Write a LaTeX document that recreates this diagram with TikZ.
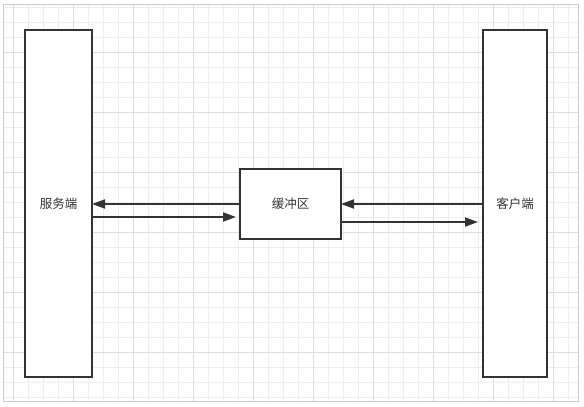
\documentclass[tikz,border=0pt]{standalone}
\usepackage{fontspec}
\newfontfamily\cjk{Noto Sans CJK SC}
\usetikzlibrary{arrows.meta}
\definecolor{ink}{HTML}{333333}
\definecolor{gridminor}{HTML}{EEEEEE}
\definecolor{gridmajor}{HTML}{DEDEDE}
\definecolor{framec}{HTML}{CCCCCC}
\tikzset{
  blockbox/.style={draw=ink, line width=1.8pt, fill=white, inner sep=0pt, outer sep=0pt},
  flow/.style={draw=ink, line width=1.8pt, -{Triangle[length=13pt,width=9pt]}},
  lbl/.style={font=\cjk\fontsize{12.5}{15}\selectfont, text=ink}
}
\begin{document}
\begin{tikzpicture}[x=1pt,y=-1pt]
\useasboundingbox (0,0) rectangle (584,407);
\fill[white] (0,0) rectangle (584,407);
% grid
\begin{scope}
\clip (3,4) rectangle (578,401);
\foreach \i in {0,...,39} {
  \draw[gridminor, line width=0.8pt] ({13+15*\i},0) -- ({13+15*\i},407);
}
\foreach \i in {0,...,27} {
  \draw[gridminor, line width=0.8pt] (0,{7.7+15*\i}) -- (584,{7.7+15*\i});
}
\foreach \i in {0,...,9} {
  \draw[gridmajor, line width=0.8pt] ({13+60*\i},0) -- ({13+60*\i},407);
}
\foreach \i in {-1,...,6} {
  \draw[gridmajor, line width=0.8pt] (0,{52.7+60*\i}) -- (584,{52.7+60*\i});
}
\end{scope}
\draw[framec, line width=1pt] (3,4) rectangle (578,401);
% boxes
\node[blockbox, minimum width=67pt, minimum height=347pt] (server) at (58.5,203.5) {};
\node[blockbox, minimum width=64pt, minimum height=347pt] (client) at (515,203.5) {};
\node[blockbox, minimum width=101pt, minimum height=70pt] (buffer) at (290.5,204) {};
\node[lbl] (serverlbl) at (server.center) {服务端};
\node[lbl] (clientlbl) at (client.center) {客户端};
\node[lbl] (bufferlbl) at (buffer.center) {缓冲区};
% arrows
\draw[flow] (buffer.west |- 0,204) -- (server.east |- 0,204);
\draw[flow] (server.east |- 0,217) -- ([xshift=-4pt]buffer.west |- 0,217);
\draw[flow] (client.west |- 0,204) -- (buffer.east |- 0,204);
\draw[flow] (buffer.east |- 0,222) -- ([xshift=-5pt]client.west |- 0,222);
\end{tikzpicture}
\end{document}
